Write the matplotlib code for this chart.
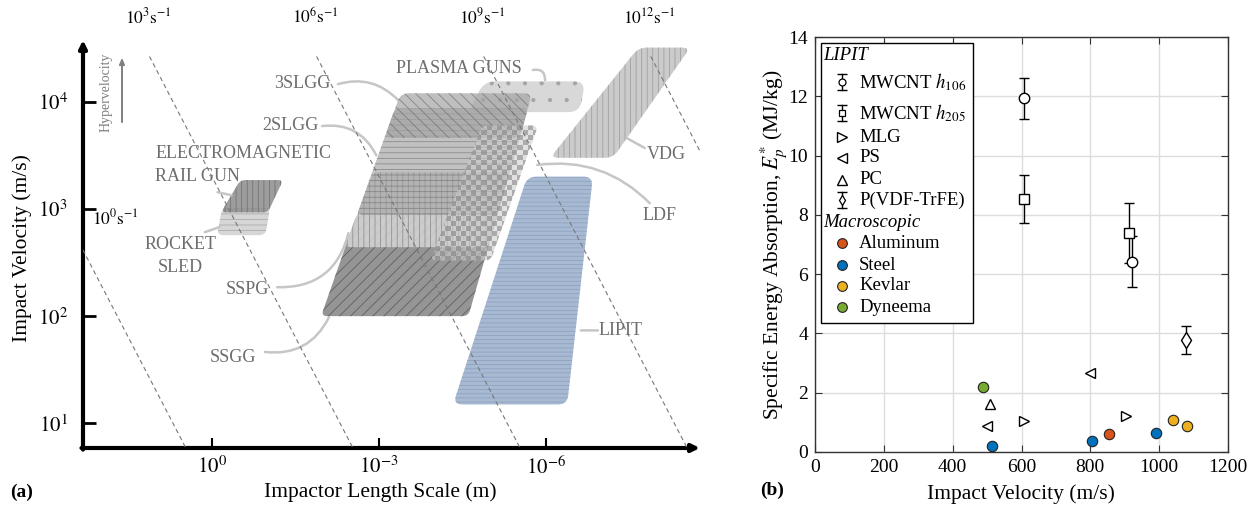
import numpy as np
import matplotlib
matplotlib.use("Agg")
import matplotlib.pyplot as plt
import matplotlib.transforms as mtransforms
from matplotlib.path import Path
from matplotlib.patches import PathPatch, Rectangle

plt.rcParams['font.family'] = ['Liberation Serif', 'DejaVu Serif']
plt.rcParams['mathtext.fontset'] = 'stix'
plt.rcParams['hatch.linewidth'] = 0.6

# ---------------- panel (a): impact testing techniques ----------------
techniques = ['PLASMA GUNS', 'SSGG', 'SSPG', '2SLGG', '3SLGG', 'LDF',
              'ROCKET SLED', 'RAIL GUN', 'VDG', 'LIPIT']
v_low = [8000, 100, 440, 880, 4600, 330, 570, 930, 3000, 15]          # m/s
v_high = [15500, 900, 2200, 8700, 12000, 6000, 1020, 1860, 32000, 2000]
# impactor length (largest, smallest) in m at the low / high velocity edge
len_at_vlow = [(2.5e-5, 2.5e-7), (1.1e-2, 2.5e-5), (4.1e-3, 1.1e-5), (2.5e-3, 7.5e-6),
               (8.0e-4, 3.0e-6), (1.2e-4, 1.0e-5), (0.81, 0.11), (0.69, 0.099),
               (8.5e-7, 6.3e-8), (4.7e-5, 4.2e-7)]
len_at_vhigh = [(1.3e-5, 2.0e-7), (2.5e-3, 7.4e-6), (1.3e-3, 4.5e-6), (5.2e-4, 2.1e-6),
                (4.1e-4, 1.8e-6), (1.4e-5, 1.4e-6), (0.66, 0.091), (0.31, 0.053),
                (2.2e-8, 2.6e-9), (2.2e-6, 1.45e-7)]
strain_rates = [1e0, 1e3, 1e6, 1e9, 1e12]   # 1/s
length_ticks = [1, 1e-3, 1e-6]
velocity_ticks = [10, 100, 1000, 10000]

# ---------------- panel (b): specific energy absorption ----------------
h106_v = [607, 920]
h106_e = [11.93, 6.42]
h106_err = [0.68, 0.85]
h205_v = [607, 911]
h205_e = [8.53, 7.39]
h205_err = [0.82, 1.0]
mlg_v = [606, 905]
mlg_e = [1.06, 1.23]
ps_v = [501, 800]
ps_e = [0.89, 2.68]
pc_v = [509]
pc_e = [1.63]
pvdf_v = [1077]
pvdf_e = [3.77]
pvdf_err = [0.47]
al_v = [855]
al_e = [0.61]
steel_v = [514, 804, 990]
steel_e = [0.20, 0.37, 0.65]
kevlar_v = [1041, 1080]
kevlar_e = [1.09, 0.88]
dyneema_v = [487]
dyneema_e = [2.19]

# styles for the regions: face, alpha, hatch, hatch colour, corner radius (px)
region_style = {
    'PLASMA GUNS': ('#d8d8d8', 1.0, '.', '#a5a5a5', 11),
    'SSGG': ('#8a8a8a', 0.9, '///', '#5a5a5a', 6),
    'SSPG': ('#d6d6d6', 0.85, '|||', '#888888', 6),
    '2SLGG': ('#999999', 0.6, '---', '#686868', 6),
    '3SLGG': ('#a4a4a4', 0.7, '\\\\\\', '#6a6a6a', 8),
    'LDF': ('#cdcdcd', 0.6, None, None, 6),
    'ROCKET SLED': ('#d2d2d2', 0.9, '---', '#a8a8a8', 6),
    'RAIL GUN': ('#929292', 0.9, '|||', '#707070', 5),
    'VDG': ('#cbcbcb', 1.0, '|||', '#a0a0a0', 8),
    'LIPIT': ('#a8b9d2', 1.0, '----', '#8ea3c1', 9),
}

label_color = '#6e6e6e'
leader_color = '#c6c6c6'


def rounded(pts, r, sx, sy):
    # polygon with rounded corners, radius r in pixels
    q = np.asarray(pts, float) * [sx, sy]
    n = len(q)
    verts, codes = [], []
    for i in range(n):
        p, a, b = q[i], q[i - 1], q[(i + 1) % n]
        la, lb = np.hypot(*(a - p)), np.hypot(*(b - p))
        p1 = p + (a - p) / la * min(r, la / 2)
        p2 = p + (b - p) / lb * min(r, lb / 2)
        verts += [p1, p, p2]
        codes += [Path.LINETO, Path.CURVE3, Path.CURVE3]
    codes[0] = Path.MOVETO
    verts.append(verts[0])
    codes.append(Path.CLOSEPOLY)
    return Path(np.array(verts) / [sx, sy], codes)


fig = plt.figure(figsize=(12.6, 5.08), dpi=100)

# axes placed in pixels of the 1260x508 canvas
ax = fig.add_axes([83 / 1260, 1 - 448 / 508, 617 / 1260, 408 / 508])
xlo, xhi = -2.316, 8.761
ylo, yhi = 0.770, 4.576
ax.set_xlim(xlo, xhi)
ax.set_ylim(ylo, yhi)
sx = ax.bbox.width / (xhi - xlo)
sy = ax.bbox.height / (yhi - ylo)

for i, name in enumerate(techniques):
    fc, alpha, hatch, hc, rad = region_style[name]
    y0, y1 = np.log10(v_low[i]), np.log10(v_high[i])
    corners = [(-np.log10(len_at_vlow[i][0]), y0), (-np.log10(len_at_vlow[i][1]), y0),
               (-np.log10(len_at_vhigh[i][1]), y1), (-np.log10(len_at_vhigh[i][0]), y1)]
    path = rounded(corners, rad, sx, sy)
    fill = PathPatch(path, facecolor=fc, edgecolor='none', alpha=alpha, zorder=2 + i * 0.1)
    ax.add_patch(fill)
    if hatch:
        ax.add_patch(PathPatch(path, facecolor='none', edgecolor=hc, lw=0, hatch=hatch,
                               alpha=alpha, zorder=2 + i * 0.1 + 0.01))
    if name == 'LDF':
        cu = np.array(corners)
        nx = int((cu[:, 0].max() - cu[:, 0].min()) * sx / 5)
        ny = int((cu[:, 1].max() - cu[:, 1].min()) * sy / 5)
        chk = np.add.outer(np.arange(ny), np.arange(nx)) % 2
        rgba = np.zeros((ny, nx, 4))
        rgba[chk == 1] = (0.5, 0.5, 0.5, 0.55)
        im = ax.imshow(rgba, extent=(cu[:, 0].min(), cu[:, 0].max(), cu[:, 1].min(), cu[:, 1].max()),
                       origin='lower', aspect='auto', interpolation='nearest', zorder=2 + i * 0.1 + 0.01)
        im.set_clip_path(fill)

ax.set_xlim(xlo, xhi)
ax.set_ylim(ylo, yhi)

# constant strain-rate lines (v/L), placed as in the schematic
shift = 0.3
y_top = 4.45
for rate in strain_rates:
    yy = np.array([0.0, y_top])
    ax.plot(np.log10(rate) + shift - yy, yy, color='#777777', lw=0.8,
            dashes=(4, 3), zorder=5)
tr = mtransforms.blended_transform_factory(ax.transData, ax.transAxes)
for rate in strain_rates[1:]:
    ax.text(np.log10(rate) + shift - y_top, 1.056,
            r'$10^{%d}\mathrm{s}^{-1}$' % round(np.log10(rate)),
            transform=tr, ha='center', va='center', fontsize=12.5)
ax.text(-1.74, 2.913, r'$10^{0}\mathrm{s}^{-1}$', ha='center', va='center', fontsize=12.5)

# labels with leader lines
labels = [
    ('3SLGG', (1.62, 4.174), (2.26, 4.164), (3.34, 4.016), -0.3),
    ('2SLGG', (1.40, 3.782), (1.975, 3.773), (2.95, 3.50), -0.35),
    ('SSPG', (0.63, 2.253), (1.17, 2.27), (2.45, 2.774), 0.4),
    ('SSGG', (0.38, 1.617), (0.95, 1.666), (2.10, 1.99), 0.35),
    ('PLASMA GUNS', (4.43, 4.314), (5.76, 4.296), (5.98, 4.20), -0.6),
    ('VDG', (8.15, 3.512), (7.77, 3.568), (7.45, 3.66), 0.0),
    ('LDF', (8.04, 2.94), (7.86, 3.053), (5.84, 3.41), 0.25),
    ('LIPIT', (7.33, 1.867), (6.93, 1.867), (6.62, 1.867), 0.0),
]
for text, pos, start, end, rad in labels:
    ax.text(pos[0], pos[1], text, ha='center', va='center', fontsize=13, color=label_color)
    ax.annotate('', xy=end, xytext=start,
                arrowprops=dict(arrowstyle='-', color=leader_color, lw=1.8,
                                shrinkA=0, shrinkB=0,
                                connectionstyle='arc3,rad=%g' % rad), zorder=1)
ax.text(-1.02, 3.521, 'ELECTROMAGNETIC', ha='left', va='center', fontsize=13, color=label_color)
ax.text(-1.02, 3.307, 'RAIL GUN', ha='left', va='center', fontsize=13, color=label_color)
ax.annotate('', xy=(0.35, 3.128), xytext=(0.10, 3.156),
            arrowprops=dict(arrowstyle='-', color=leader_color, lw=1.8, shrinkA=0, shrinkB=0))
ax.text(-0.56, 2.672, 'ROCKET', ha='center', va='center', fontsize=13, color=label_color)
ax.text(-0.56, 2.458, 'SLED', ha='center', va='center', fontsize=13, color=label_color)
ax.annotate('', xy=(0.13, 2.83), xytext=(-0.13, 2.783),
            arrowprops=dict(arrowstyle='-', color=leader_color, lw=1.8, shrinkA=0, shrinkB=0))

# hypervelocity marker
ax.text(-1.90, 4.09, 'Hypervelocity', rotation=90, ha='center', va='center',
        fontsize=10, color='#7f7f7f')
ax.annotate('', xy=(-1.616, 4.41), xytext=(-1.616, 3.81),
            arrowprops=dict(arrowstyle='-|>,head_length=0.35,head_width=0.15',
                            color='#7f7f7f', lw=1.4, shrinkA=0, shrinkB=0))

# axes as thick arrows
for s in ax.spines.values():
    s.set_visible(False)
ax.annotate('', xy=(0, 1), xytext=(0, -0.004), xycoords='axes fraction',
            arrowprops=dict(arrowstyle='-|>,head_length=0.45,head_width=0.22',
                            color='k', lw=3, shrinkA=0, shrinkB=0))
ax.annotate('', xy=(1, 0), xytext=(-0.0025, 0), xycoords='axes fraction',
            arrowprops=dict(arrowstyle='-|>,head_length=0.45,head_width=0.22',
                            color='k', lw=3, shrinkA=0, shrinkB=0))
ax.set_xticks([-np.log10(L) for L in length_ticks],
              [r'$10^{%d}$' % round(np.log10(L)) for L in length_ticks])
ax.set_yticks([np.log10(v) for v in velocity_ticks],
              [r'$10^{%d}$' % round(np.log10(v)) for v in velocity_ticks])
ax.tick_params(axis='y', direction='in', length=9, width=2, labelsize=15, pad=11)
ax.tick_params(axis='x', direction='in', length=7, width=1.5, labelsize=15, pad=6)

fig.text(22 / 1260, 1 - 248 / 508, 'Impact Velocity (m/s)', rotation=90,
         ha='center', va='center', fontsize=15.5)
fig.text(380 / 1260, 1 - 492 / 508, 'Impactor Length Scale (m)',
         ha='center', va='center', fontsize=15.5)
fig.text(22 / 1260, 1 - 492 / 508, '(a)', ha='center', va='center',
         fontsize=14, fontweight='bold')

# ---------------- panel (b) ----------------
bx = fig.add_axes([815 / 1260, 1 - 452 / 508, 413 / 1260, 415 / 508])
spine_c = '#333333'
ebkw = dict(fmt='none', ecolor='k', elinewidth=1.0, capsize=3.5, capthick=1.0, zorder=3)
bx.errorbar(h106_v, h106_e, yerr=h106_err, **ebkw)
bx.errorbar(h205_v, h205_e, yerr=h205_err, **ebkw)
bx.errorbar(pvdf_v, pvdf_e, yerr=pvdf_err, **ebkw)
open_kw = dict(linestyle='none', mfc='white', mec='k', mew=1.0, zorder=4)
bx.plot(h205_v, h205_e, marker='s', ms=6.5, **open_kw)
bx.plot(h106_v, h106_e, marker='o', ms=7.5, **open_kw)
bx.plot(pvdf_v, pvdf_e, marker='d', ms=8, **open_kw)
bx.plot(mlg_v, mlg_e, marker='>', ms=7, **open_kw)
bx.plot(ps_v, ps_e, marker='<', ms=7, **open_kw)
bx.plot(pc_v, pc_e, marker='^', ms=7, **open_kw)
macro = [(al_v, al_e, '#d95319'), (steel_v, steel_e, '#0072bd'),
         (kevlar_v, kevlar_e, '#edb120'), (dyneema_v, dyneema_e, '#77ac30')]
for xv, yv, c in macro:
    bx.plot(xv, yv, linestyle='none', marker='o', ms=7.5, mfc=c, mec='#222222',
            mew=0.8, zorder=4)

bx.set_xlim(0, 1200)
bx.set_ylim(0, 14)
bx.set_xticks(np.arange(0, 1201, 200))
bx.set_yticks(np.arange(0, 15, 2))
bx.grid(True, color='#dddddd', lw=1.0)
bx.set_axisbelow(True)
for s in bx.spines.values():
    s.set_color(spine_c)
    s.set_linewidth(1.0)
bx.tick_params(direction='in', length=5, width=0.8, color=spine_c, top=True, right=True,
               labelsize=14, pad=5)

# legend drawn by hand (grouped with italic headers)
bx.add_patch(Rectangle((0.0145, 0.3108), 0.368, 0.6747, transform=bx.transAxes,
                       facecolor='white', edgecolor='k', lw=1.0, zorder=6))
legend_rows = [
    ('LIPIT', 'header', None, 55),
    (r'MWCNT $h_{106}$', 'err', 'o', 82),
    (r'MWCNT $h_{205}$', 'err', 's', 113),
    ('MLG', 'open', '>', 137),
    ('PS', 'open', '<', 158),
    ('PC', 'open', '^', 180),
    ('P(VDF-TrFE)', 'err', 'd', 200),
    ('Macroscopic', 'header', None, 223),
    ('Aluminum', '#d95319', 'o', 243),
    ('Steel', '#0072bd', 'o', 265),
    ('Kevlar', '#edb120', 'o', 286),
    ('Dyneema', '#77ac30', 'o', 307),
]
mx, tx, hx = (842 - 815) / 413, (859 - 815) / 413, (823 - 815) / 413
for text, kind, mk, py in legend_rows:
    yy = (452 - py) / 415
    if kind == 'header':
        bx.text(hx, yy, text, transform=bx.transAxes, ha='left', va='center',
                fontsize=13.5, style='italic', zorder=7)
        continue
    bx.text(tx, yy, text, transform=bx.transAxes, ha='left', va='center',
            fontsize=13.5, zorder=7)
    if kind == 'err':
        dy = 8 / 415
        bx.plot([mx, mx], [yy - dy, yy + dy], color='k', lw=1.0,
                transform=bx.transAxes, clip_on=False, zorder=7)
        bx.plot([mx, mx], [yy - dy, yy + dy], linestyle='none', marker='_', ms=7,
                mew=1.0, color='k', transform=bx.transAxes, clip_on=False, zorder=7)
        bx.plot([mx], [yy], marker=mk, ms=5, mfc='white', mec='k', mew=0.9,
                transform=bx.transAxes, clip_on=False, zorder=8)
    elif kind == 'open':
        bx.plot([mx], [yy], marker=mk, ms=6.5, mfc='white', mec='k', mew=1.0,
                transform=bx.transAxes, clip_on=False, zorder=8)
    else:
        bx.plot([mx], [yy], marker='o', ms=7, mfc=kind, mec='#222222', mew=0.8,
                transform=bx.transAxes, clip_on=False, zorder=8)

fig.text(774 / 1260, 1 - 245 / 508, r'Specific Energy Absorption, $E_p^{*}$ (MJ/kg)',
         rotation=90, ha='center', va='center', fontsize=15.5)
fig.text(1021 / 1260, 1 - 494 / 508, 'Impact Velocity (m/s)',
         ha='center', va='center', fontsize=15.5)
fig.text(772 / 1260, 1 - 490 / 508, '(b)', ha='center', va='center',
         fontsize=14, fontweight='bold')

fig.savefig('out.png', dpi=100)
